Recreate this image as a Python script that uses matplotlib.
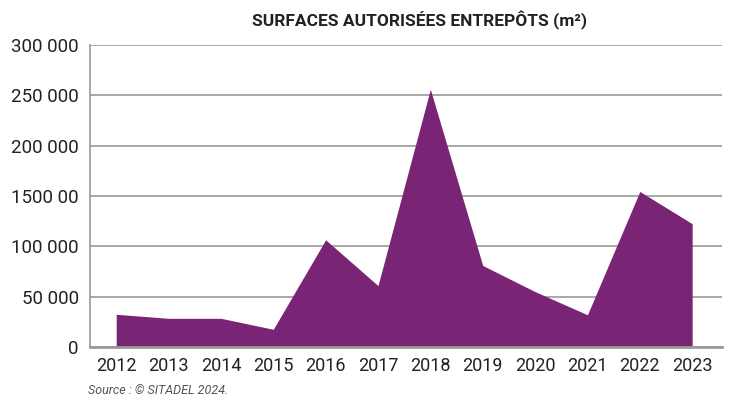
import matplotlib.pyplot as plt

years = ["2012", "2013", "2014", "2015", "2016", "2017",
         "2018", "2019", "2020", "2021", "2022", "2023"]
surfaces = [32500, 28500, 28500, 17600, 106500, 61000,
            256000, 81000, 55000, 32000, 154500, 122500]
yticks = [0, 50000, 100000, 150000, 200000, 250000, 300000]
ytick_labels = ["0", "50 000", "100 000", "1500 00", "200 000", "250 000", "300 000"]

plt.rcParams['font.family'] = ['Roboto', 'DejaVu Sans']

fig = plt.figure(figsize=(7.33, 4), dpi=100)
ax = fig.add_axes([90 / 733, 1 - 347 / 400, 632 / 733, 302 / 400])

x = list(range(len(years)))
ax.fill_between(x, surfaces, 0, color="#792474", linewidth=0, zorder=3)

ax.set_xlim(-0.5, 11.57)
ax.set_ylim(0, 300000)
ax.set_yticks(yticks)
ax.set_yticklabels(ytick_labels)
ax.set_xticks(x)
ax.set_xticklabels(years)
ax.grid(axis="y", color="#9a9a9a", linewidth=1.2, zorder=1)
ax.tick_params(length=0, colors="#222222")
ax.tick_params(axis="y", labelsize=13.5, pad=8)
ax.tick_params(axis="x", labelsize=13, pad=7)

for s in ["top", "right"]:
    ax.spines[s].set_visible(False)
ax.spines["left"].set_color("#9a9a9a")
ax.spines["left"].set_linewidth(1.2)
ax.spines["bottom"].set_color("#9a9a9a")
ax.spines["bottom"].set_linewidth(2)
ax.spines["bottom"].set_zorder(4)

fig.text(420 / 733, 1 - 20 / 400, "SURFACES AUTORISÉES ENTREPÔTS (m²)",
         ha="center", va="center", fontsize=12.5, fontweight="bold", color="#222222")
fig.text(88 / 733, 1 - 391 / 400, "Source : © SITADEL 2024.",
         ha="left", va="center", fontsize=9, style="italic", color="#555555")

fig.savefig("out.png", dpi=100)
